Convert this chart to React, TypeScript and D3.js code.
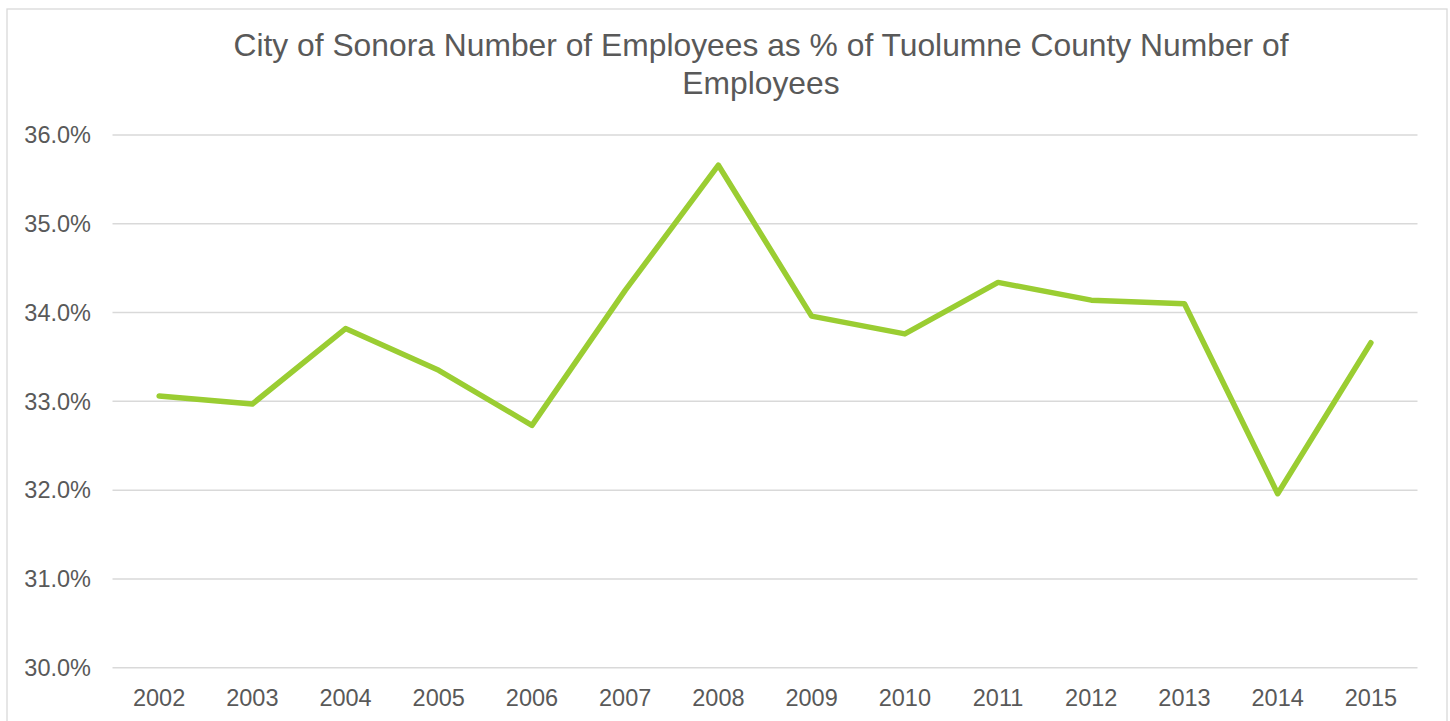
import React from "react";
import * as d3 from "d3";

// data
const years = ["2002", "2003", "2004", "2005", "2006", "2007", "2008", "2009", "2010", "2011", "2012", "2013", "2014", "2015"];
const sharePct = [33.06, 32.97, 33.82, 33.35, 32.73, 34.25, 35.66, 33.96, 33.76, 34.34, 34.14, 34.1, 31.96, 33.66];
const yTicks = [30, 31, 32, 33, 34, 35, 36];
const titleLines = ["City of Sonora Number of Employees as % of Tuolumne County Number of", "Employees"];

const W = 1450;
const H = 721;
const font = "'Liberation Sans', Arial, sans-serif";
const textColor = "#595959";
const gridColor = "#d9d9d9";

export default function App() {
  const x = d3.scaleBand().domain(years).range([112.5, 1417.5]);
  const y = d3.scaleLinear().domain([30, 36]).range([667.7, 135]);

  const line = d3
    .line<number>()
    .x((_, i) => (x(years[i]) ?? 0) + x.bandwidth() / 2)
    .y((d) => y(d));

  return (
    <div style={{ position: "fixed", left: 0, top: 0 }}>
      <svg width={W} height={H} style={{ display: "block", background: "#fff" }}>
        <rect x={7} y={9} width={1440} height={740} fill="#fff" stroke={gridColor} strokeWidth={1.3} />

        {/* title */}
        {titleLines.map((t, i) => (
          <text key={i} x={761} y={56 + i * 37.5} textAnchor="middle" fontFamily={font} fontSize={31.8} fill={textColor}>
            {t}
          </text>
        ))}

        {/* gridlines + y labels */}
        {yTicks.map((t) => (
          <g key={t}>
            <line x1={112.5} x2={1417.5} y1={y(t)} y2={y(t)} stroke={gridColor} strokeWidth={1.5} />
            <text x={91} y={y(t)} dy="0.35em" textAnchor="end" fontFamily={font} fontSize={23.5} fill={textColor}>
              {t.toFixed(1)}%
            </text>
          </g>
        ))}

        {/* x labels */}
        {years.map((yr) => (
          <text key={yr} x={(x(yr) ?? 0) + x.bandwidth() / 2} y={706} textAnchor="middle" fontFamily={font} fontSize={23.5} fill={textColor}>
            {yr}
          </text>
        ))}

        <path d={line(sharePct) ?? ""} fill="none" stroke="#9acd32" strokeWidth={5.5} strokeLinejoin="round" strokeLinecap="round" />
      </svg>
    </div>
  );
}
